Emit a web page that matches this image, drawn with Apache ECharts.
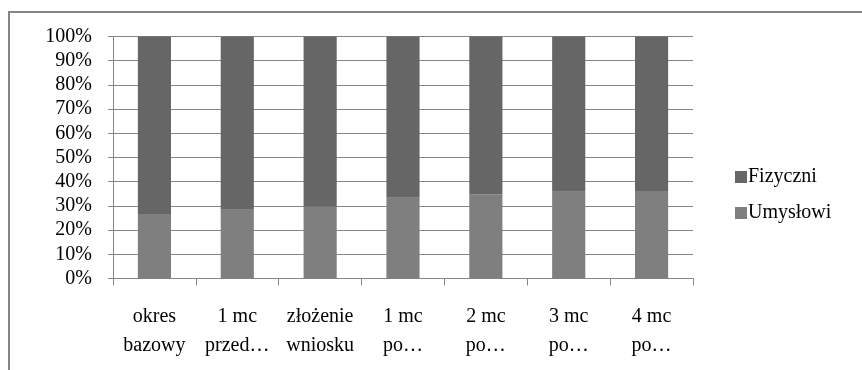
<!DOCTYPE html>
<html><head><meta charset="utf-8">
<script src="https://cdn.jsdelivr.net/npm/echarts@6/dist/echarts.min.js"></script>
<style>html,body{margin:0;padding:0;background:#fff}#c{width:862px;height:370px}</style>
</head><body><div id="c"></div>
<script>
const categories = ['okres\nbazowy', '1 mc\nprzed…', 'złożenie\nwniosku', '1 mc\npo…', '2 mc\npo…', '3 mc\npo…', '4 mc\npo…'];
const umyslowi = [26.7, 28.4, 29.8, 33.4, 34.8, 35.8, 36.2];
const fizyczni = [73.3, 71.6, 70.2, 66.6, 65.2, 64.2, 63.8];
const yTicks = [0, 10, 20, 30, 40, 50, 60, 70, 80, 90, 100];

const font = 'Liberation Serif';
const chart = echarts.init(document.getElementById('c'), null, {renderer: 'canvas'});
chart.setOption({
  animation: false,
  textStyle: {fontFamily: font},
  graphic: [{type: 'rect', shape: {x: 9, y: 12, width: 900, height: 420}, style: {fill: 'none', stroke: '#868686', lineWidth: 2}, z: -1}],
  grid: {left: 113, right: 169, top: 36.5, bottom: 91.5},
  legend: {
    orient: 'vertical', left: 730, top: 162, itemWidth: 12, itemHeight: 12, itemGap: 16,
    icon: 'rect', data: ['Fizyczni', 'Umysłowi'],
    textStyle: {fontFamily: font, fontSize: 20, color: '#000', padding: [0, 0, 0, -4]}
  },
  xAxis: {
    type: 'category', data: categories,
    axisLine: {lineStyle: {color: '#868686', width: 1}},
    axisTick: {show: true, length: 7, lineStyle: {color: '#868686'}},
    axisLabel: {fontFamily: font, fontSize: 20, color: '#000', margin: 24, lineHeight: 29, interval: 0}
  },
  yAxis: {
    type: 'value', min: 0, max: 100, interval: 10,
    axisLine: {show: true, lineStyle: {color: '#868686'}},
    axisTick: {show: true, length: 5, lineStyle: {color: '#868686'}},
    splitLine: {lineStyle: {color: '#868686', width: 1}},
    axisLabel: {fontFamily: font, fontSize: 20, color: '#000', margin: 21,
      formatter: v => yTicks.includes(v) ? v + '%' : ''}
  },
  series: [
    {name: 'Umysłowi', type: 'bar', stack: 's', data: umyslowi, barWidth: '40%', itemStyle: {color: '#7f7f7f'}},
    {name: 'Fizyczni', type: 'bar', stack: 's', data: fizyczni, barWidth: '40%', itemStyle: {color: '#666666'}}
  ]
});
</script></body></html>
